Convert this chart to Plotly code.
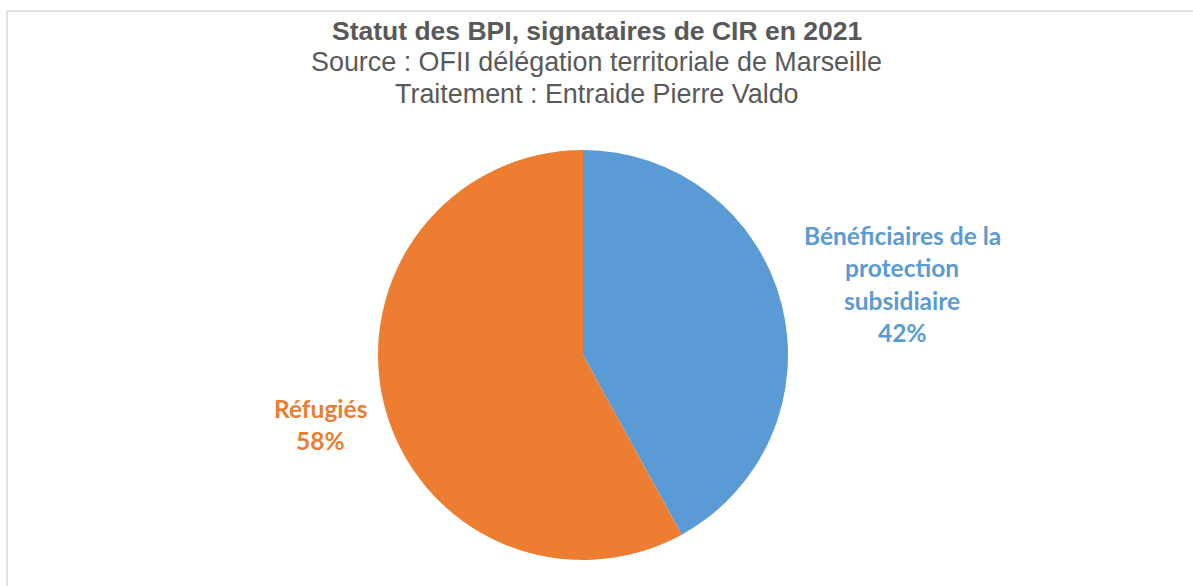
import plotly.graph_objects as go

# data
categories = ["Bénéficiaires de la<br>protection<br>subsidiaire", "Réfugiés"]
values = [42, 58]
colors = ["#5B9BD5", "#ED7D31"]

title_lines = [
    "<b>Statut des BPI, signataires de CIR en 2021</b>",
    "Source : OFII délégation territoriale de Marseille",
    "Traitement : Entraide Pierre Valdo",
]

W, H = 1193, 586
cx, cy, r = 583, 355, 205

fig = go.Figure(go.Pie(
    labels=[c.replace("<br>", " ") for c in categories],
    values=values,
    marker=dict(colors=colors, line=dict(width=0)),
    sort=False,
    direction="clockwise",
    rotation=0,
    textinfo="none",
    hoverinfo="label+percent",
    domain=dict(x=[(cx - r) / W, (cx + r) / W], y=[1 - (cy + r) / H, 1 - (cy - r) / H]),
    showlegend=False,
))

# title block
for i, t in enumerate(title_lines):
    fig.add_annotation(x=0.5, y=1 - (31 + 31.5 * i) / H, xref="paper", yref="paper",
                       text=t, showarrow=False, xanchor="center", yanchor="middle",
                       font=dict(family="Liberation Sans, Arial", size=26.5 if i == 0 else 26.9,
                                 color="#595959"))

# data labels (outside the pie), one annotation per line for Excel-like spacing
total = sum(values)
label_pos = [(902, 235), (320, 408)]
for cat, v, col, (lx, ly) in zip(categories, values, colors, label_pos):
    lines = cat.split("<br>") + [f"{round(100 * v / total)}%"]
    for j, ln in enumerate(lines):
        fig.add_annotation(x=lx / W, y=1 - (ly + 32.5 * j) / H, xref="paper", yref="paper",
                           text=f"<b>{ln}</b>", showarrow=False, xanchor="center", yanchor="middle",
                           font=dict(family="Lato, Open Sans", size=24.5, color=col))

# chart frame (only top and left edges visible in the crop)
fig.add_shape(type="line", xref="paper", yref="paper", x0=7 / W, x1=1, y0=1 - 11 / H, y1=1 - 11 / H,
              line=dict(color="#D9D9D9", width=1.5))
fig.add_shape(type="line", xref="paper", yref="paper", x0=7 / W, x1=7 / W, y0=0, y1=1 - 11 / H,
              line=dict(color="#D9D9D9", width=1.5))

fig.update_layout(
    width=W, height=H,
    margin=dict(l=0, r=0, t=0, b=0),
    paper_bgcolor="white",
    plot_bgcolor="white",
)

fig.write_html("out.html", config={"displayModeBar": False},
               post_script="document.body.style.margin='0';")
